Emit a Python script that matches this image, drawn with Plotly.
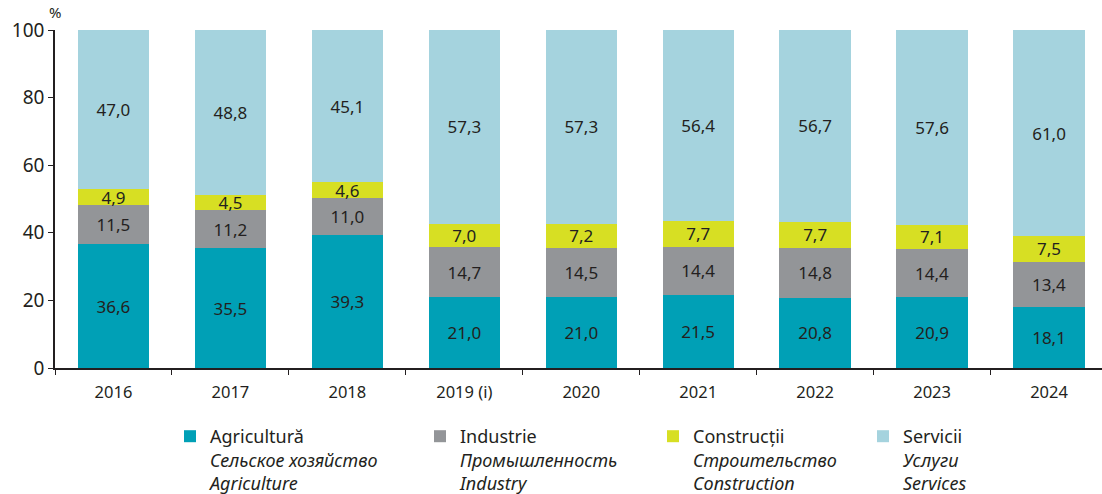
import plotly.graph_objects as go

years = ["2016", "2017", "2018", "2019 (i)", "2020", "2021", "2022", "2023", "2024"]
agricultura = [36.6, 35.5, 39.3, 21.0, 21.0, 21.5, 20.8, 20.9, 18.1]
industrie = [11.5, 11.2, 11.0, 14.7, 14.5, 14.4, 14.8, 14.4, 13.4]
constructii = [4.9, 4.5, 4.6, 7.0, 7.2, 7.7, 7.7, 7.1, 7.5]
servicii = [47.0, 48.8, 45.1, 57.3, 57.3, 56.4, 56.7, 57.6, 61.0]

series = [
    ("Agricultură<br><i>Сельское хозяйство</i><br><i>Agriculture</i>", agricultura, "#00a0b6", "legend"),
    ("Industrie<br><i>Промышленность</i><br><i>Industry</i>", industrie, "#939598", "legend2"),
    ("Construcții<br><i>Строительство</i><br><i>Construction</i>", constructii, "#d7df23", "legend3"),
    ("Servicii<br><i>Услуги</i><br><i>Services</i>", servicii, "#a5d3de", "legend4"),
]

font_family = "Noto Sans, Open Sans, sans-serif"
W, H = 1102, 494
L, R, T, B = 55, 0, 30, 126
pw = W - L - R
ph = H - T - B

fig = go.Figure()
for name, vals, color, leg in series:
    fig.add_trace(go.Bar(
        x=years, y=vals, name=name, legend=leg,
        marker=dict(color=color, line=dict(width=0)),
        text=[f"{v:.1f}".replace(".", ",") for v in vals],
        textposition="inside", insidetextanchor="middle",
        textfont=dict(color="#231f20", size=17, family=font_family),
        constraintext="none", hoverinfo="skip",
    ))

legend_text_x = [210, 460, 693, 903]
legend_top = 418
leg_common = dict(
    orientation="v", yanchor="top", xanchor="left",
    font=dict(size=18, color="#231f20", family=font_family),
    valign="top", itemwidth=30, bgcolor="rgba(0,0,0,0)", borderwidth=0,
)
legends = {}
for i, tx in enumerate(legend_text_x):
    key = "legend" if i == 0 else f"legend{i+1}"
    legends[key] = dict(leg_common, x=(tx - 40 - L) / pw, y=(T + ph - legend_top) / ph)

fig.update_layout(
    barmode="stack",
    bargap=0.39,
    width=W, height=H,
    margin=dict(l=L, r=R, t=T, b=B, autoexpand=False),
    paper_bgcolor="white", plot_bgcolor="white",
    font=dict(family=font_family, color="#231f20", size=16),
    uniformtext=dict(minsize=10, mode="show"),
    showlegend=True,
    annotations=[dict(text="%", x=0, xref="paper", xanchor="center", y=1.0, yref="paper",
                      yanchor="bottom", yshift=6, showarrow=False,
                      font=dict(size=15, color="#231f20"))],
    **legends,
)
fig.update_xaxes(
    type="category", range=[-0.5, 8.453], showline=True, linecolor="#231f20", linewidth=1.5,
    ticks="outside", tickson="boundaries", ticklen=5, tickcolor="#231f20",
    tickfont=dict(size=16.5), showgrid=False, ticklabelstandoff=8,
)
fig.update_yaxes(
    range=[0, 100], dtick=20, showline=True, linecolor="#231f20", linewidth=1.5,
    ticks="outside", ticklen=5, tickcolor="#231f20", showgrid=False, zeroline=False,
    tickfont=dict(size=19),
)
fig.write_html(
    "out.html",
    config={"displayModeBar": False},
    post_script="document.body.style.margin='0';document.body.style.padding='0';document.body.style.overflow='hidden';",
)
